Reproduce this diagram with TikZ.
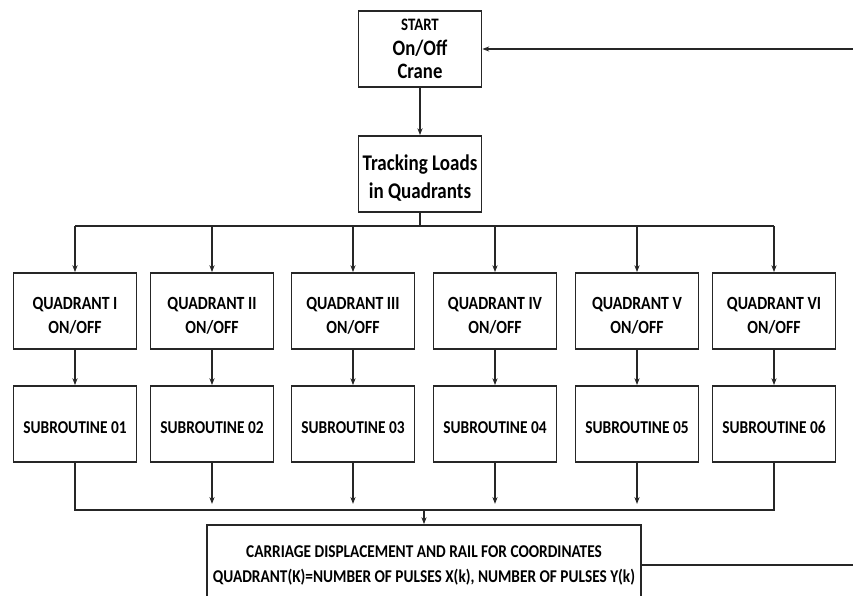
\documentclass[tikz,border=0pt]{standalone}
\usepackage{fontspec}
\setmainfont{Carlito}[FakeStretch=0.85]
\usetikzlibrary{arrows.meta}
\tikzset{>={Stealth[length=2.4mm,width=1.8mm]}}
\tikzset{box/.style={draw=black!85, line width=1.8pt, minimum width=123pt, minimum height=76pt, align=center, inner sep=0pt}}
\tikzset{link/.style={draw=black!85, line width=1.3pt}}

\begin{document}
\begin{tikzpicture}[x=1pt,y=-1pt, font=\bfseries]
\useasboundingbox (0,0) rectangle (853,596);
\clip (0,0) rectangle (853,596);
    %top of the chart
    \node[box, font=\bfseries\fontsize{22}{23}\selectfont] (start) at (420,49)
        {{\fontsize{17.5}{18}\selectfont START}\\[2pt] On/Off\\ Crane};
    \node[box, font=\bfseries\fontsize{22.4}{28}\selectfont] (track) at (420,174)
        {\rule{0pt}{24pt}Tracking Loads\\ in Quadrants};
    \draw[link,->] (start.south) -- (track.north);
    %quadrants and subroutines
    \coordinate (tl) at (75,226);
    \coordinate (tr) at (774,226);
    \coordinate (bl) at (75,510);
    \coordinate (br) at (774,510);
    \foreach \i/\x/\r in {1/75/I, 2/212/II, 3/353/III, 4/495/IV, 5/637/V, 6/774/VI}
    {
        \node[box, font=\bfseries\fontsize{18.6}{24}\selectfont] (q\i) at (\x,311)
            {\rule{0pt}{22pt}QUADRANT \r\\ ON/OFF};
        \node[box, font=\bfseries\fontsize{18.1}{19}\selectfont] (s\i) at (\x,424)
            {\rule{0pt}{20pt}SUBROUTINE 0\i};
        \draw[link,->] (q\i.north |- tl) -- (q\i.north);
        \draw[link,->] (q\i.south) -- (s\i.north);
    }
    \draw[link] (track.south) -- (track.south |- tl);
    \draw[link] (tl) -- (tr);
    \foreach \i in {2,3,4,5}
    {\draw[link,->] (s\i.south) -- ++(0,41);}
    %bottom
    \node[box, minimum width=434pt, minimum height=80pt, font=\bfseries\fontsize{18}{25}\selectfont] (carr) at (424,565)
        {CARRIAGE DISPLACEMENT AND RAIL FOR COORDINATES\\ QUADRANT(K)=NUMBER OF PULSES X(k), NUMBER OF PULSES Y(k)};
    \draw[link] (s1.south) -- (bl) -- (br) -- (s6.south);
    \draw[link,->] (carr.north |- bl) -- (carr.north);
    %loop back
    \coordinate (re1) at (853,565);
    \coordinate (re2) at (853,49);
    \draw[link] (carr.east) -- (re1);
    \draw[link,->] (re2) -- (start.east);
\end{tikzpicture}
\end{document}
